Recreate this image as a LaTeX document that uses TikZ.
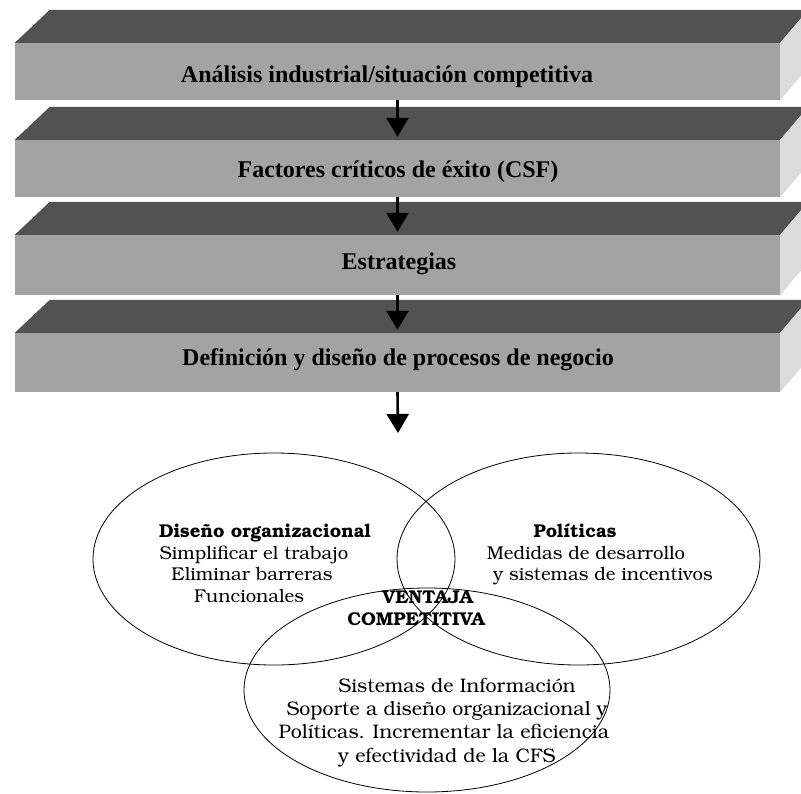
\documentclass[tikz,border=0pt]{standalone}
\usepackage[T1]{fontenc}
\usepackage{fontspec}
\setmainfont{Liberation Serif}
\usetikzlibrary{arrows.meta,shapes.geometric}

% Bookman (Type 1) for the texts inside the circles
\newcommand{\bkfont}[1]{\fontencoding{T1}\fontfamily{pbk}\fontsize{#1}{#1}\selectfont}

\definecolor{slabtop}{gray}{0.32}
\definecolor{slabfront}{gray}{0.64}
\definecolor{slabside}{gray}{0.86}

\begin{document}
\begin{tikzpicture}[x=1pt,y=-1pt,
  slabfront/.style={fill=slabfront, draw=none, inner sep=0pt, minimum width=765pt},
  slabtext/.style={inner sep=0pt, anchor=base, font=\fontsize{24}{28}\selectfont\bfseries},
  flow/.style={line width=2.6pt, -{Triangle[width=22pt,length=19pt]}},
  venn/.style={draw=black, line width=0.8pt, ellipse, inner sep=0pt},
  vtext/.style={inner sep=0pt, anchor=base, font=\bkfont{18.5}},
  vbold/.style={inner sep=0pt, anchor=base, font=\bkfont{18.5}\bfseries},
  vlow/.style={inner sep=0pt, anchor=base, font=\bkfont{19.6}},
]
\useasboundingbox (0,0) rectangle (801,793);

% ---- four stacked slabs ----
\begin{scope}
\clip (0,0) rectangle (801,793);
\node[slabfront, minimum height=57pt] (s1) at (397.5,71.5) {};
\node[slabfront, minimum height=57pt] (s2) at (397.5,168.5) {};
\node[slabfront, minimum height=60pt] (s3) at (397.5,265) {};
\node[slabfront, minimum height=59pt] (s4) at (397.5,362.5) {};
\foreach \s in {s1,s2,s3,s4}{
  \fill[slabtop] (\s.north west) -- ++(35,-33)
     -- ([shift={(28,-33)}]\s.north east) -- (\s.north east) -- cycle;
  \fill[slabside] (\s.north east) -- ++(28,-33)
     -- ([shift={(28,-33)}]\s.south east) -- (\s.south east) -- cycle;
}
\end{scope}

\node[slabtext] (t1) at (387,82) {Análisis industrial/situación competitiva};
\node[slabtext] (t2) at (398,177) {Factores críticos de éxito (CSF)};
\node[slabtext] (t3) at (399,269) {Estrategias};
\node[slabtext] (t4) at (398,365) {Definición y diseño de procesos de negocio};

% ---- arrows between the slabs ----
\coordinate (vtop) at (398,433);
\draw[flow] (s1.south) -- ([yshift=3pt]s2.north);
\draw[flow] (s2.south) -- ([yshift=3pt]s3.north);
\draw[flow] (s3.south) -- ([yshift=3pt]s4.north);
\draw[flow] (s4.south) -- (vtop);

% ---- three overlapping ellipses ----
\node[venn, minimum width=362pt, minimum height=212pt] (org) at (274,559) {};
\node[venn, minimum width=363pt, minimum height=212pt] (pol) at (578.5,559) {};
\node[venn, minimum width=366pt, minimum height=204pt] (sis) at (427,690) {};

\node[vbold] (o1) at (265,537) {Dise\~no organizacional};
\node[vtext] (o2) at (254,559) {Simplificar el trabajo};
\node[vtext] (o3) at (252,580) {Eliminar barreras};
\node[vtext] (o4) at (249,602) {Funcionales};

\node[vbold] (p1) at (575,537) {Pol\'{\i}ticas};
\node[vtext] (p2) at (586,559) {Medidas de desarrollo};
\node[vtext] (p3) at (603,580) {y sistemas de incentivos};

\node[vbold] (c1) at (427.5,603) {VENTAJA};
\node[vbold] (c2) at (416,625) {COMPETITIVA};

\node[vlow] (i1) at (457,692) {Sistemas de Informaci\'on};
\node[vlow] (i2) at (447,715) {Soporte a dise\~no organizacional y};
\node[vlow] (i3) at (444,738) {Pol\'{\i}ticas. Incrementar la eficiencia};
\node[vlow] (i4) at (447,762) {y efectividad de la CFS};
\end{tikzpicture}
\end{document}
